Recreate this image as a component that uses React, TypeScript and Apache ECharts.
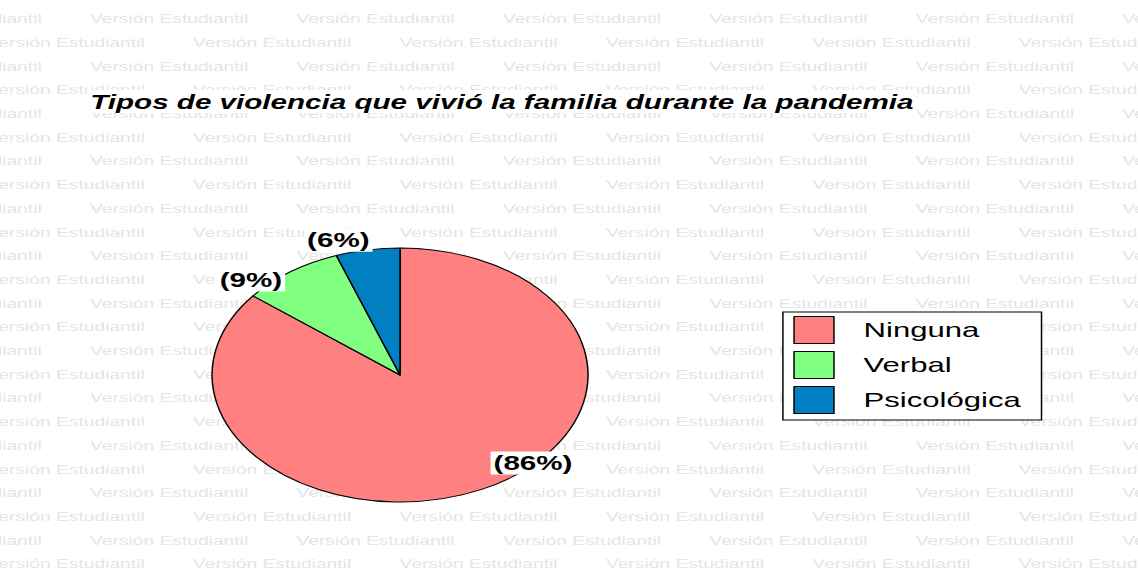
import React, { useEffect, useRef } from "react";
import * as echarts from "echarts";

const categories = ["Ninguna", "Verbal", "Psicológica"];
const values = [85.7, 8.8, 5.5];
const colors = ["#FF8080", "#80FF80", "#0080C0"];
const titleText = "Tipos de violencia que vivió la familia durante la pandemia";
const watermarkText = "Versión Estudiantil";

// horizontal stretch of the original picture
const SX = 1.48;
const W = 1138 / SX;
const H = 580;
const CX = 270.3;
const CY = 375;
const R = 127;
// label placement (angle clockwise from top in degrees, radius factor)
const labelAngles = [134.4, -46.7, -17.2];
const labelRadii = [0.99, 1.09, 1.11];

export default function App() {
  const ref = useRef<HTMLDivElement>(null);
  useEffect(() => {
    if (!ref.current) return;
    const chart = echarts.init(ref.current, null, { renderer: "svg" });
    const wm: any[] = [];
    for (let r = 0; r < 24; r++) {
      const y = 18.5 + r * 23.7;
      const start = r % 2 === 0 ? 60.8 : 130.4;
      for (let k = -1; k < 6; k++) {
        wm.push({
          type: "text",
          x: start + 139.5 * k,
          y,
          z: 0,
          silent: true,
          style: {
            text: watermarkText,
            fill: "#e5e5e5",
            font: "13px 'Liberation Sans', Arial, sans-serif",
            verticalAlign: "middle",
            align: "left",
          },
        });
      }
    }
    chart.setOption({
      animation: false,
      backgroundColor: "#fff",
      graphic: wm,
      title: {
        text: titleText,
        left: 59,
        top: 90,
        padding: [2, 2, 1, 2],
        backgroundColor: "#fff",
        textStyle: {
          fontSize: 20,
          fontStyle: "italic",
          fontWeight: "bold",
          color: "#000",
          fontFamily: "'Liberation Sans', Arial, sans-serif",
        },
      },
      legend: {
        orient: "vertical",
        left: 529,
        top: 312,
        padding: [4, 14, 6, 7],
        itemWidth: 27,
        itemHeight: 27,
        itemGap: 7,
        borderColor: "#000",
        borderWidth: 1,
        backgroundColor: "#fff",
        icon: "rect",
        itemStyle: { borderColor: "#000", borderWidth: 1 },
        textStyle: {
          fontSize: 21,
          color: "#000",
          padding: [0, 0, 0, 15],
          fontFamily: "'Liberation Sans', Arial, sans-serif",
        },
        data: categories,
      },
      series: [
        {
          type: "pie",
          center: [CX, CY],
          radius: R,
          startAngle: 90,
          clockwise: true,
          z: 2,
          itemStyle: { borderColor: "#000", borderWidth: 1 },
          label: {
            show: true,
            position: "outside",
            formatter: (p: any) => "(" + Math.round(p.percent) + "%)",
            fontSize: 20,
            fontWeight: "bold",
            color: "#000",
            backgroundColor: "#fff",
            padding: [2, 2, 1, 2],
            fontFamily: "'Liberation Sans', Arial, sans-serif",
          },
          labelLine: { show: false },
          labelLayout: (params: any) => {
            const i = params.dataIndex;
            const a = (labelAngles[i] * Math.PI) / 180;
            return {
              x: CX + R * labelRadii[i] * Math.sin(a),
              y: CY - R * labelRadii[i] * Math.cos(a),
              align: "center",
              verticalAlign: "middle",
            };
          },
          emphasis: { disabled: true },
          data: categories.map((c, i) => ({
            name: c,
            value: values[i],
            itemStyle: { color: colors[i] },
          })),
        },
      ],
    });
    return () => chart.dispose();
  }, []);
  return (
    <div
      ref={ref}
      style={{
        position: "absolute",
        left: 0,
        top: 0,
        width: W,
        height: H,
        transform: `scaleX(${SX})`,
        transformOrigin: "0 0",
      }}
    />
  );
}
